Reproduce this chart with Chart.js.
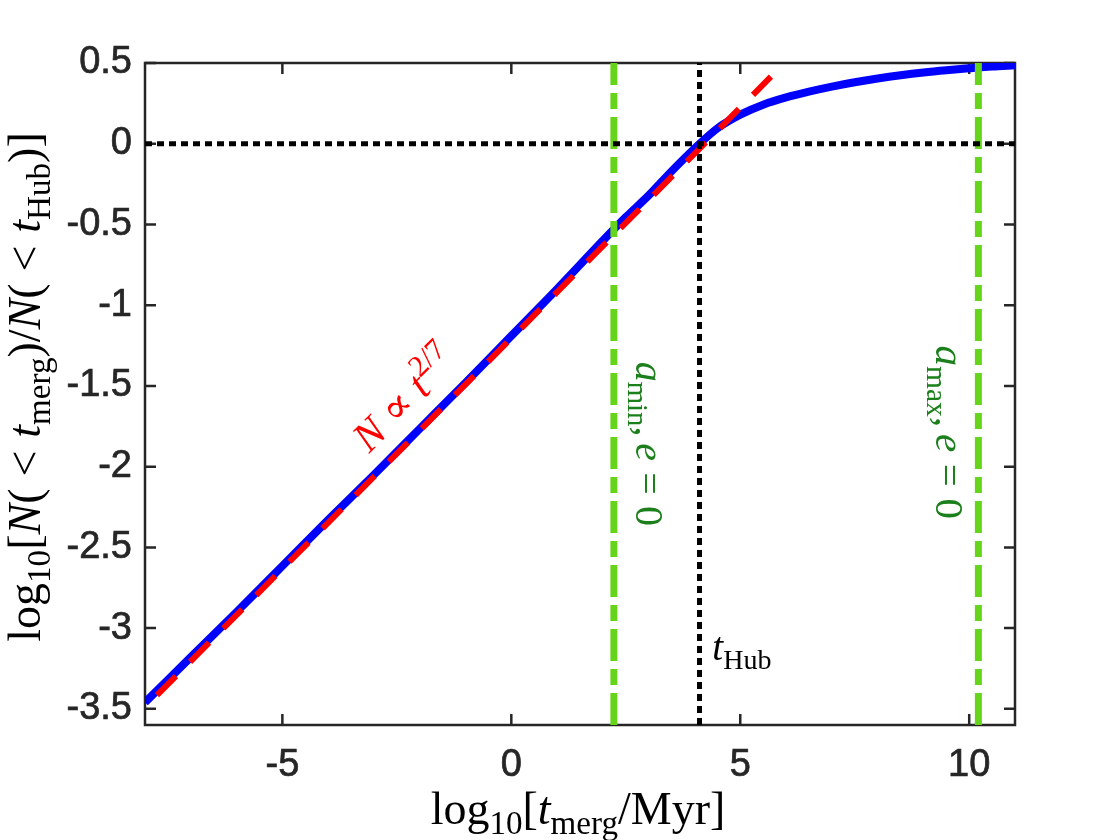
<!DOCTYPE html>
<html>
<head>
<meta charset="utf-8">
<script src="https://cdn.jsdelivr.net/npm/chart.js@4.4.1/dist/chart.umd.min.js"></script>
<style>
  html, body { margin: 0; padding: 0; background: #fff; }
  canvas { display: block; }
</style>
</head>
<body>
<canvas id="chart" width="1120" height="840"></canvas>
<script>
// Cumulative merger-time distribution
const blueX = [-8, -7, -6, -5, -4, -3, -2, -1, 0, 1, 2, 2.5, 3, 3.5, 4, 4.5, 5, 5.5, 6, 6.5, 7, 7.5, 8, 8.5, 9, 9.5, 10, 10.5, 11];
const blueY = [-3.46, -3.18, -2.9, -2.615, -2.33, -2.05, -1.765, -1.48, -1.19, -0.9, -0.6, -0.455, -0.32, -0.17, -0.03, 0.095, 0.18, 0.242, 0.287, 0.323, 0.354, 0.381, 0.404, 0.424, 0.441, 0.455, 0.467, 0.478, 0.486];

// power-law guide N ~ t^(2/7)
const fitX = [-8, 5.67];
const fitY = [-3.49, 0.415];

// reference lines
const tHubX = 4.11;
const aMinX = 2.24;
const aMaxX = 10.2;

const xRange = [-8, 11];
const yRange = [-3.6, 0.5];
const xTicks = [-5, 0, 5, 10];
const yTicks = [-3.5, -3, -2.5, -2, -1.5, -1, -0.5, 0, 0.5];

const axisColor = '#262626';
const serif = '"Liberation Serif", "DejaVu Serif", serif';
const sans = '"Liberation Sans", Arial, sans-serif';

// draws a little bit of "LaTeX" : list of [text, kind] pieces
function drawRich(ctx, parts, x, y, angle, size, color, align) {
    const fontFor = (k) => {
        const small = (k === 'sub' || k === 'subi' || k === 'sup');
        const italic = (k === 'i' || k === 'subi');
        return (italic ? 'italic ' : '') + (small ? size * 0.72 : size) + 'px ' + serif;
    };
    const shift = (k) => k === 'sup' ? -size * 0.42 : ((k === 'sub' || k === 'subi') ? size * 0.22 : 0);
    ctx.save();
    ctx.translate(x, y);
    ctx.rotate(angle);
    ctx.fillStyle = color;
    ctx.textBaseline = 'alphabetic';
    ctx.textAlign = 'left';
    const widths = parts.map(p => {
        if (p[1] === 'sp') return p[2] * size;
        ctx.font = fontFor(p[1]);
        return ctx.measureText(p[0]).width;
    });
    const total = widths.reduce((a, b) => a + b, 0);
    let cx = align === 'center' ? -total / 2 : 0;
    parts.forEach((p, i) => {
        if (p[1] !== 'sp') {
            ctx.font = fontFor(p[1]);
            ctx.fillText(p[0], cx, shift(p[1]));
        }
        cx += widths[i];
    });
    ctx.restore();
}

const sp = (w) => ['', 'sp', w];

const xLabel = [['log', 'r'], ['10', 'sub'], ['[', 'r'], ['t', 'i'], ['merg', 'sub'], ['/Myr]', 'r']];
const yLabel = [['log', 'r'], ['10', 'sub'], ['[', 'r'], ['N', 'i'], ['(', 'r'], sp(0.26), ['<', 'r'], sp(0.28), ['t', 'i'], ['merg', 'sub'],
    [')/', 'r'], ['N', 'i'], ['(', 'r'], sp(0.26), ['<', 'r'], sp(0.28), ['t', 'i'], ['Hub', 'sub'], [')]', 'r']];
const fitLabel = [['N', 'i'], sp(0.25), ['\u221D', 'r'], sp(0.25), ['t', 'i'], ['2/7', 'sup']];
const minLabel = [['a', 'i'], ['min', 'sub'], [',', 'r'], sp(0.17), ['e', 'i'], sp(0.28), ['=', 'r'], sp(0.28), ['0', 'r']];
const maxLabel = [['a', 'i'], ['max', 'sub'], [',', 'r'], sp(0.17), ['e', 'i'], sp(0.28), ['=', 'r'], sp(0.28), ['0', 'r']];
const hubLabel = [['t', 'i'], ['Hub', 'sub']];

// box + inward ticks on all four sides, like a matlab axes
const boxPlugin = {
    id: 'box',
    beforeDatasetsDraw(chart) {
        const { ctx, chartArea: a, scales } = chart;
        ctx.save();
        ctx.strokeStyle = axisColor;
        ctx.lineWidth = 2.5;
        ctx.strokeRect(a.left, a.top, a.right - a.left, a.bottom - a.top);
        const len = 11;
        ctx.beginPath();
        xTicks.forEach(v => {
            const px = scales.x.getPixelForValue(v);
            ctx.moveTo(px, a.bottom); ctx.lineTo(px, a.bottom - len);
            ctx.moveTo(px, a.top); ctx.lineTo(px, a.top + len);
        });
        yTicks.forEach(v => {
            const py = scales.y.getPixelForValue(v);
            ctx.moveTo(a.left, py); ctx.lineTo(a.left + len, py);
            ctx.moveTo(a.right, py); ctx.lineTo(a.right - len, py);
        });
        ctx.stroke();
        ctx.restore();
    },
    afterDraw(chart) {
        const { ctx, chartArea: a, scales } = chart;
        const X = v => scales.x.getPixelForValue(v);
        const Y = v => scales.y.getPixelForValue(v);
        drawRich(ctx, xLabel, (a.left + a.right) / 2 - 2, 824, 0, 46, '#000', 'center');
        drawRich(ctx, yLabel, 40, 387, -Math.PI / 2, 46, '#000', 'center');
        drawRich(ctx, fitLabel, X(-3.1), Y(-1.92), -Math.PI / 4, 42, '#ff0000', 'left');
        drawRich(ctx, minLabel, X(2.73), Y(-1.35), Math.PI / 2, 40, '#1b7f1b', 'left');
        drawRich(ctx, maxLabel, X(9.28), Y(-1.25), Math.PI / 2, 41, '#1b7f1b', 'left');
        drawRich(ctx, hubLabel, X(4.39), Y(-3.2), 0, 39, '#000', 'left');
    }
};

const pts = (xs, ys) => xs.map((x, i) => ({ x: x, y: ys[i] }));
const tickFont = { family: sans, size: 38 };

new Chart(document.getElementById('chart'), {
    type: 'scatter',
    data: {
        datasets: [
            {   // t_Hub vertical
                data: pts([tHubX, tHubX], yRange),
                showLine: true, borderColor: '#000', borderWidth: 5, borderDash: [7, 5], pointRadius: 0
            },
            {   // zero line
                data: pts(xRange, [0, 0]),
                showLine: true, borderColor: '#000', borderWidth: 5, borderDash: [7, 5], pointRadius: 0
            },
            {
                data: pts([aMinX, aMinX], yRange),
                showLine: true, borderColor: '#66d41a', borderWidth: 7, borderDash: [32, 8, 16, 8], pointRadius: 0
            },
            {
                data: pts([aMaxX, aMaxX], yRange),
                showLine: true, borderColor: '#66d41a', borderWidth: 7, borderDash: [32, 8, 16, 8], pointRadius: 0
            },
            {
                data: pts(fitX, fitY),
                showLine: true, borderColor: '#ff0000', borderWidth: 6, borderDash: [27, 20], borderDashOffset: 30, pointRadius: 0
            },
            {
                data: pts(blueX, blueY),
                showLine: true, borderColor: '#0000ff', borderWidth: 8, pointRadius: 0,
                cubicInterpolationMode: 'monotone'
            }
        ]
    },
    options: {
        responsive: false,
        animation: false,
        devicePixelRatio: 1,
        layout: { padding: { left: 0, top: 63, right: 105, bottom: 0 } },
        plugins: { legend: { display: false }, tooltip: { enabled: false } },
        scales: {
            x: {
                type: 'linear', min: xRange[0], max: xRange[1],
                grid: { display: false, drawTicks: false },
                border: { display: false },
                afterBuildTicks: s => { s.ticks = xTicks.map(v => ({ value: v })); },
                afterFit: s => { s.height = 115; },
                ticks: {
                    padding: 18, color: axisColor, maxRotation: 0, font: tickFont,
                    textStrokeColor: axisColor, textStrokeWidth: 0.7,
                    callback: v => String(v)
                }
            },
            y: {
                type: 'linear', min: yRange[0], max: yRange[1],
                grid: { display: false, drawTicks: false },
                border: { display: false },
                afterBuildTicks: s => { s.ticks = yTicks.map(v => ({ value: v })); },
                afterFit: s => { s.width = 145; },
                ticks: {
                    padding: 13, color: axisColor, font: tickFont,
                    textStrokeColor: axisColor, textStrokeWidth: 0.7,
                    callback: v => String(v)
                }
            }
        }
    },
    plugins: [boxPlugin]
});
</script>
</body>
</html>
